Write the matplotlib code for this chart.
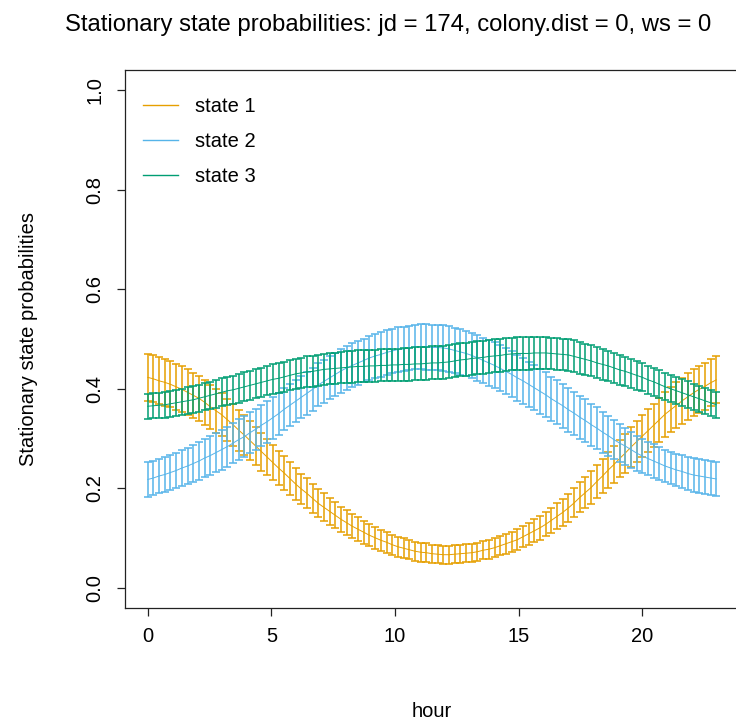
import numpy as np
import matplotlib
matplotlib.use("Agg")
import matplotlib.pyplot as plt

plt.rcParams['font.family'] = ['Liberation Sans', 'DejaVu Sans']

# covariate grid (hour of day), 101 points from 0 to 23
hour = np.linspace(0, 23, 101)

state_names = ["state 1", "state 2", "state 3"]
colors = ["#E69F00", "#56B4E9", "#009E73"]

s1_mean = [0.423, 0.420, 0.416, 0.413, 0.409, 0.404, 0.399, 0.393, 0.387, 0.381,
           0.373, 0.364, 0.356, 0.348, 0.338, 0.328, 0.317, 0.307, 0.296, 0.285,
           0.274, 0.263, 0.252, 0.241, 0.231, 0.220, 0.209, 0.199, 0.190, 0.180,
           0.170, 0.162, 0.154, 0.146, 0.138, 0.131, 0.124, 0.118, 0.112, 0.106,
           0.101, 0.096, 0.092, 0.087, 0.083, 0.080, 0.077, 0.074, 0.072, 0.071,
           0.069, 0.068, 0.067, 0.067, 0.068, 0.069, 0.070, 0.071, 0.073, 0.076,
           0.078, 0.081, 0.085, 0.089, 0.093, 0.097, 0.103, 0.109, 0.115, 0.121,
           0.128, 0.136, 0.144, 0.152, 0.161, 0.171, 0.182, 0.192, 0.202, 0.214,
           0.225, 0.237, 0.248, 0.260, 0.271, 0.283, 0.294, 0.305, 0.316, 0.327,
           0.338, 0.349, 0.358, 0.367, 0.376, 0.384, 0.392, 0.399, 0.405, 0.412,
           0.418]
s1_hw = [0.047, 0.047, 0.047, 0.047, 0.046, 0.046, 0.046, 0.046, 0.045, 0.045,
         0.045, 0.044, 0.044, 0.043, 0.042, 0.042, 0.041, 0.040, 0.039, 0.038,
         0.038, 0.037, 0.036, 0.035, 0.034, 0.033, 0.032, 0.031, 0.030, 0.029,
         0.028, 0.028, 0.027, 0.026, 0.025, 0.025, 0.024, 0.024, 0.023, 0.022,
         0.022, 0.021, 0.021, 0.020, 0.020, 0.020, 0.019, 0.019, 0.019, 0.019,
         0.018, 0.018, 0.018, 0.018, 0.018, 0.018, 0.018, 0.018, 0.018, 0.018,
         0.019, 0.019, 0.019, 0.020, 0.020, 0.021, 0.021, 0.022, 0.023, 0.024,
         0.024, 0.025, 0.026, 0.027, 0.028, 0.029, 0.030, 0.031, 0.033, 0.034,
         0.035, 0.036, 0.037, 0.038, 0.039, 0.040, 0.041, 0.042, 0.043, 0.043,
         0.044, 0.045, 0.045, 0.046, 0.046, 0.047, 0.047, 0.047, 0.047, 0.047,
         0.047]

s2_mean = [0.218, 0.221, 0.225, 0.228, 0.232, 0.236, 0.241, 0.245, 0.250, 0.255,
           0.261, 0.266, 0.272, 0.278, 0.284, 0.291, 0.298, 0.304, 0.312, 0.319,
           0.327, 0.334, 0.342, 0.350, 0.359, 0.367, 0.375, 0.383, 0.391, 0.399,
           0.408, 0.415, 0.422, 0.429, 0.436, 0.442, 0.447, 0.452, 0.457, 0.462,
           0.466, 0.469, 0.473, 0.476, 0.479, 0.480, 0.482, 0.484, 0.485, 0.484,
           0.483, 0.483, 0.482, 0.480, 0.477, 0.474, 0.471, 0.467, 0.462, 0.457,
           0.452, 0.447, 0.441, 0.435, 0.429, 0.422, 0.416, 0.409, 0.402, 0.395,
           0.388, 0.380, 0.373, 0.366, 0.358, 0.351, 0.343, 0.336, 0.328, 0.321,
           0.313, 0.306, 0.298, 0.291, 0.285, 0.278, 0.271, 0.265, 0.260, 0.255,
           0.250, 0.245, 0.241, 0.237, 0.234, 0.230, 0.227, 0.225, 0.223, 0.221,
           0.219]
s2_hw = [0.035, 0.035, 0.035, 0.036, 0.036, 0.036, 0.037, 0.037, 0.037, 0.038,
         0.038, 0.039, 0.039, 0.040, 0.040, 0.040, 0.041, 0.041, 0.041, 0.041,
         0.041, 0.042, 0.042, 0.042, 0.042, 0.042, 0.042, 0.042, 0.043, 0.043,
         0.043, 0.043, 0.043, 0.043, 0.044, 0.044, 0.044, 0.044, 0.044, 0.044,
         0.044, 0.045, 0.045, 0.045, 0.045, 0.045, 0.045, 0.045, 0.046, 0.046,
         0.046, 0.046, 0.046, 0.046, 0.046, 0.046, 0.046, 0.046, 0.046, 0.046,
         0.046, 0.046, 0.046, 0.046, 0.046, 0.046, 0.046, 0.045, 0.045, 0.045,
         0.045, 0.044, 0.044, 0.044, 0.044, 0.043, 0.043, 0.043, 0.042, 0.042,
         0.041, 0.040, 0.039, 0.038, 0.037, 0.036, 0.035, 0.034, 0.034, 0.034,
         0.033, 0.033, 0.033, 0.033, 0.033, 0.034, 0.034, 0.034, 0.034, 0.035,
         0.035]

s3_mean = [0.365, 0.366, 0.367, 0.368, 0.370, 0.372, 0.374, 0.376, 0.378, 0.381,
           0.384, 0.387, 0.390, 0.393, 0.396, 0.398, 0.401, 0.404, 0.407, 0.410,
           0.413, 0.416, 0.419, 0.421, 0.424, 0.427, 0.430, 0.432, 0.434, 0.435,
           0.437, 0.439, 0.440, 0.441, 0.442, 0.443, 0.444, 0.445, 0.445, 0.446,
           0.446, 0.447, 0.447, 0.448, 0.448, 0.449, 0.449, 0.450, 0.450, 0.451,
           0.452, 0.452, 0.453, 0.454, 0.456, 0.458, 0.459, 0.461, 0.462, 0.463,
           0.465, 0.466, 0.467, 0.469, 0.470, 0.471, 0.471, 0.471, 0.472, 0.472,
           0.472, 0.471, 0.470, 0.469, 0.468, 0.465, 0.462, 0.459, 0.456, 0.452,
           0.449, 0.446, 0.442, 0.438, 0.435, 0.431, 0.427, 0.423, 0.418, 0.414,
           0.409, 0.404, 0.400, 0.396, 0.392, 0.388, 0.384, 0.380, 0.376, 0.372,
           0.368]
s3_hw = [0.025, 0.025, 0.025, 0.026, 0.026, 0.026, 0.026, 0.027, 0.027, 0.027,
         0.027, 0.027, 0.028, 0.028, 0.028, 0.028, 0.029, 0.029, 0.029, 0.029,
         0.029, 0.029, 0.030, 0.030, 0.030, 0.030, 0.030, 0.030, 0.031, 0.031,
         0.031, 0.031, 0.031, 0.031, 0.031, 0.032, 0.032, 0.032, 0.032, 0.032,
         0.032, 0.032, 0.032, 0.032, 0.032, 0.033, 0.033, 0.033, 0.033, 0.033,
         0.033, 0.033, 0.033, 0.033, 0.033, 0.033, 0.033, 0.033, 0.033, 0.033,
         0.033, 0.033, 0.033, 0.033, 0.033, 0.033, 0.033, 0.033, 0.033, 0.033,
         0.033, 0.032, 0.032, 0.032, 0.032, 0.032, 0.032, 0.031, 0.031, 0.031,
         0.031, 0.030, 0.030, 0.030, 0.029, 0.029, 0.029, 0.028, 0.028, 0.028,
         0.028, 0.027, 0.027, 0.027, 0.027, 0.027, 0.026, 0.026, 0.026, 0.026,
         0.026]

means = [s1_mean, s2_mean, s3_mean]
hws = [s1_hw, s2_hw, s3_hw]

fig = plt.figure(figsize=(7.36, 7.24), dpi=100)
ax = fig.add_axes([125 / 736, 116 / 724, 614 / 736, 538 / 724])

for m, hw, c, name in zip(means, hws, colors, state_names):
    m = np.asarray(m)
    hw = np.asarray(hw)
    ax.plot(hour, m, color=c, lw=0.7, label=name)
    ax.errorbar(hour, m, yerr=hw, fmt='none', ecolor=c, elinewidth=1.1,
                capsize=2.8, capthick=1.1)

ax.set_xlim(-0.92, 23.92)
ax.set_ylim(-0.04, 1.04)
ax.set_xticks([0, 5, 10, 15, 20])
ax.set_yticks([0.0, 0.2, 0.4, 0.6, 0.8, 1.0])
ax.set_yticklabels(["0.0", "0.2", "0.4", "0.6", "0.8", "1.0"], rotation=90, va='center')
ax.tick_params(axis='both', labelsize=14.5, length=6, width=0.9, color='#222222')
ax.tick_params(axis='x', pad=8)
ax.tick_params(axis='y', pad=9)
for s in ax.spines.values():
    s.set_linewidth(0.9)
    s.set_color('#222222')

ax.set_xlabel("hour", fontsize=14.5, labelpad=40)
ax.set_ylabel("Stationary state probabilities", fontsize=14.5, labelpad=34)
fig.text(388 / 736, 1 - 25 / 724, "Stationary state probabilities: jd = 174, colony.dist = 0, ws = 0",
         ha='center', va='center', fontsize=17.2)

leg = ax.legend(loc='upper left', frameon=False, fontsize=14.5, handlelength=1.75,
                handletextpad=0.85, labelspacing=0.8, borderaxespad=0.0,
                bbox_to_anchor=(0.016, 0.965))
for line in leg.get_lines():
    line.set_linewidth(1.0)

fig.savefig("out.png", dpi=100)
